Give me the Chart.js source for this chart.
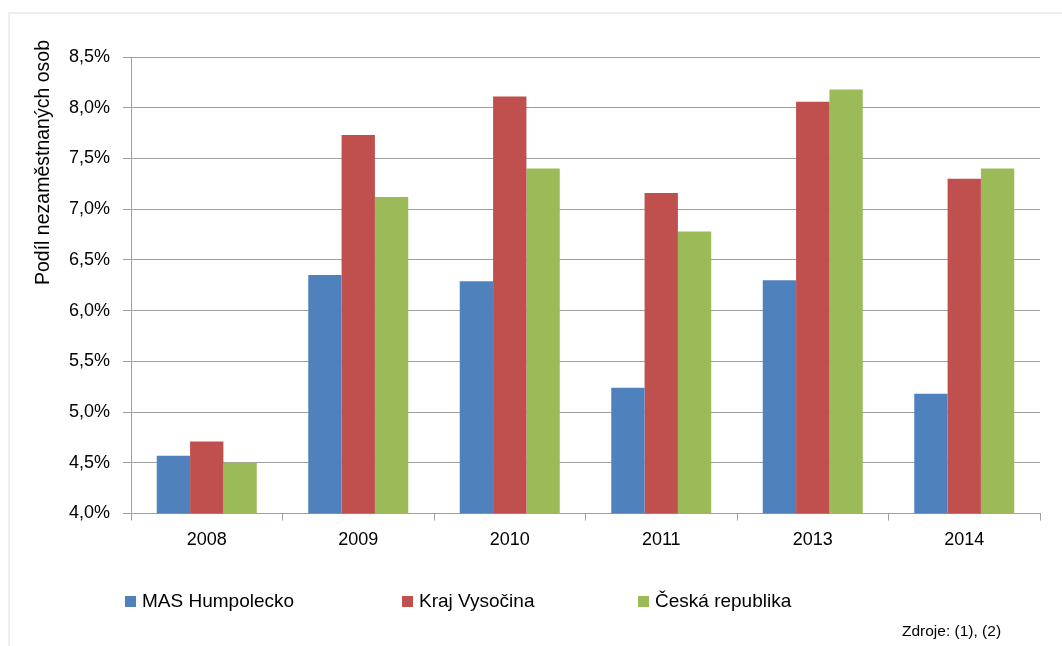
<!DOCTYPE html>
<html><head><meta charset="utf-8">
<script src="https://cdn.jsdelivr.net/npm/chart.js@4"></script>
<style>
html,body{margin:0;padding:0;background:#fff;width:1062px;height:646px;overflow:hidden;font-family:'Liberation Sans',Arial,sans-serif;}
#wrap{position:relative;width:1062px;height:646px;overflow:hidden;}
#frame{position:absolute;left:8px;top:12px;width:1100px;height:700px;border-left:2px solid #eeeeee;border-top:2px solid #eeeeee;}
canvas{position:absolute;left:0;top:0;}
.lg{position:absolute;top:590px;height:22px;display:flex;align-items:center;font-size:19px;color:#000;white-space:nowrap;}
.lg i{display:inline-block;width:11px;height:11px;margin-right:6px;}
#src{position:absolute;left:902px;top:622px;font-size:15.5px;line-height:18px;color:#000;white-space:nowrap;}
</style></head>
<body>
<div id="wrap">
<div id="frame"></div>
<canvas id="c" width="1062" height="646"></canvas>
<div id="legend"></div>
<div id="src">Zdroje: (1), (2)</div>
</div>
<script>
// ---- data ----
const categories = ['2008', '2009', '2010', '2011', '2013', '2014'];
const seriesNames = ['MAS Humpolecko', 'Kraj Vysočina', 'Česká republika'];
const masHumpolecko = [4.57, 6.35, 6.29, 5.24, 6.30, 5.18];
const krajVysocina = [4.71, 7.73, 8.11, 7.16, 8.06, 7.30];
const ceskaRepublika = [4.50, 7.12, 7.40, 6.78, 8.18, 7.40];
const yTicks = [4.0, 4.5, 5.0, 5.5, 6.0, 6.5, 7.0, 7.5, 8.0, 8.5];
const yAxisTitle = 'Podíl nezaměstnaných osob';

// ---- styles ----
const colors = ['#4F81BD', '#C0504D', '#9BBB59'];
const FONT = "'Liberation Sans', Arial, sans-serif";
const gridColor = '#a0a0a0';
const legendLefts = [125, 402, 638];

const seriesData = [masHumpolecko, krajVysocina, ceskaRepublika];

const yTitlePlugin = {
  id: 'yTitle',
  afterDraw(c) {
    const g = c.ctx;
    g.save();
    g.translate(49, c.chartArea.top + 105.5);
    g.rotate(-Math.PI / 2);
    g.font = "19.5px " + FONT;
    g.fillStyle = '#000';
    g.textAlign = 'center';
    g.textBaseline = 'alphabetic';
    g.fillText(yAxisTitle, 0, 0);
    g.restore();
  }
};

new Chart(document.getElementById('c'), {
  type: 'bar',
  data: {
    labels: categories,
    datasets: seriesNames.map((n, i) => ({
      label: n,
      data: seriesData[i],
      backgroundColor: colors[i],
      borderWidth: 0
    }))
  },
  options: {
    responsive: false,
    animation: false,
    layout: { padding: { left: 0, right: 22, top: 57, bottom: 0 } },
    plugins: { legend: { display: false }, tooltip: { enabled: false } },
    datasets: { bar: { categoryPercentage: 0.66, barPercentage: 1 } },
    scales: {
      x: {
        grid: { display: true, drawOnChartArea: false, drawTicks: true, tickLength: 7, color: gridColor, offset: true },
        border: { display: true, color: gridColor },
        ticks: { font: { family: FONT, size: 18 }, color: '#000', padding: 9 },
        afterFit(s) { s.height = 646 - 513.5; }
      },
      y: {
        min: yTicks[0],
        max: yTicks[yTicks.length - 1],
        afterBuildTicks(s) { s.ticks = yTicks.map(v => ({ value: v })); },
        ticks: {
          font: { family: FONT, size: 18 }, color: '#000', padding: 13,
          callback: v => Number(v).toFixed(1).replace('.', ',') + '%'
        },
        grid: { color: gridColor, tickLength: 8 },
        border: { display: true, color: gridColor },
        afterFit(s) { s.width = 131; }
      }
    }
  },
  plugins: [yTitlePlugin]
});

// HTML legend built from the series
const lg = document.getElementById('legend');
seriesNames.forEach((n, i) => {
  const d = document.createElement('div');
  d.className = 'lg';
  d.style.left = legendLefts[i] + 'px';
  const sw = document.createElement('i');
  sw.style.background = colors[i];
  d.appendChild(sw);
  d.appendChild(document.createTextNode(n));
  lg.appendChild(d);
});
</script>
</body></html>
